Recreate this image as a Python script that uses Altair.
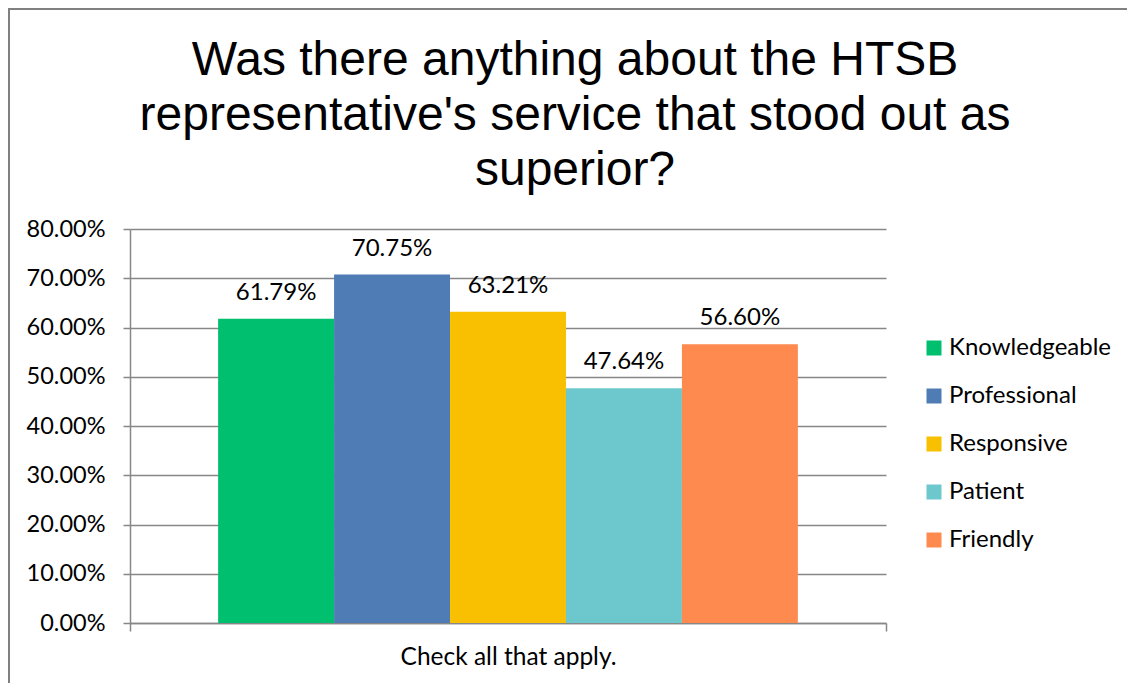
import altair as alt
import pandas as pd

series = ["Knowledgeable", "Professional", "Responsive", "Patient", "Friendly"]
values = [0.6179, 0.7075, 0.6321, 0.4764, 0.5660]
colors = ["#00BF6F", "#4F7CB5", "#F8C000", "#6CC8CC", "#FF8A50"]
category = "Check all that apply."
title_lines = ["Was there anything about the HTSB",
               "representative's service that stood out as",
               "superior?"]

df = pd.DataFrame({"group": [category] * len(series), "series": series, "value": values})

FONT = "Lato"
GRID = "#878787"

x_enc = alt.X("group:N", scale=alt.Scale(paddingInner=0, paddingOuter=0),
              axis=alt.Axis(title=None, labelFontSize=24.5, labelFont=FONT, labelColor="#000",
                            labelPadding=14, labelLimit=600, tickBand="extent", tickSize=8,
                            tickColor=GRID, domainColor=GRID, domainWidth=1.5, tickWidth=1.5,
                            labelAngle=0))
xo_enc = alt.XOffset("series:N", sort=series,
                     scale=alt.Scale(domain=series, paddingOuter=0.76, paddingInner=0))

bars = alt.Chart(df).mark_bar().encode(
    x=x_enc,
    xOffset=xo_enc,
    y=alt.Y("value:Q", scale=alt.Scale(domain=[0, 0.8], nice=False),
            axis=alt.Axis(title=None, format=".2%", values=[i / 10 for i in range(9)],
                          labelFontSize=23.5, labelFont=FONT, labelColor="#000", labelPadding=18,
                          tickSize=7, tickColor=GRID, tickWidth=1.5, domainColor=GRID,
                          domainWidth=1.5, gridColor=GRID, gridWidth=1.5)),
    color=alt.Color("series:N", sort=series,
                    scale=alt.Scale(domain=series, range=colors),
                    legend=alt.Legend(title=None, orient="none", legendX=792, legendY=107,
                                      symbolType="square", symbolSize=225, symbolStrokeWidth=0,
                                      labelFontSize=24, labelFont=FONT, labelColor="#000",
                                      rowPadding=24, labelOffset=3, labelLimit=300)),
)

labels = alt.Chart(df).mark_text(fontSize=24, font=FONT, color="#000",
                                 baseline="alphabetic", dy=-19).encode(
    x=alt.X("group:N"),
    xOffset=alt.XOffset("series:N", sort=series),
    y="value:Q",
    text=alt.Text("value:Q", format=".2%"),
)

border = alt.Chart(pd.DataFrame({"a": [0]})).mark_rect(
    filled=False, stroke="#808080", strokeWidth=2).encode(
    x=alt.value(-121), x2=alt.value(1015), y=alt.value(-220), y2=alt.value(480))

chart = alt.layer(border, bars, labels).properties(
    width=756, height=394,
    autosize=alt.AutoSizeParams(type="none"),
    padding={"left": 122, "top": 221, "right": 241, "bottom": 60},
    title=alt.TitleParams(text=title_lines, font="Liberation Sans", fontSize=48,
                          fontWeight="normal", lineHeight=55, anchor="middle",
                          baseline="alphabetic", frame="group", dx=67, dy=235,
                          color="#000", offset=10),
).configure_view(stroke=None)

chart.save("out.html", embed_options={"renderer": "svg", "actions": False})
